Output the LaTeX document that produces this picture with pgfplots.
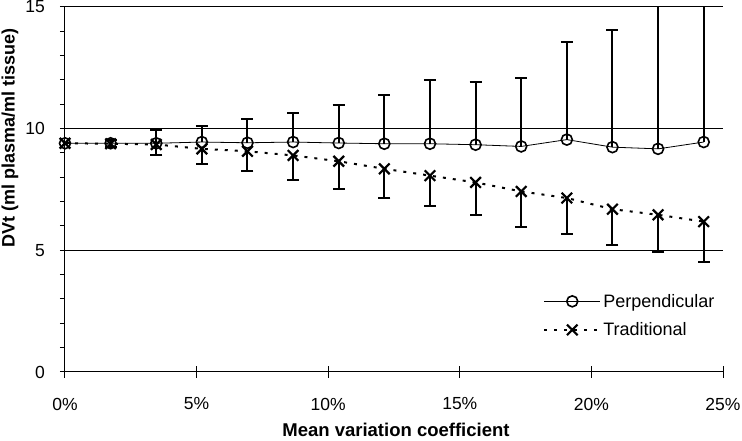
\documentclass[border=0pt]{standalone}
\usepackage{pgfplots}
\pgfplotsset{compat=1.18}
\usepackage{pgfplotstable}
\usepackage{fontspec}
\setmainfont{Liberation Sans}

\pgfplotstableread{
x y e
0      9.40 0.00
1.733  9.40 0.12
3.467  9.40 0.56
5.200  9.45 0.67
6.933  9.42 0.96
8.667  9.45 1.21
10.400 9.41 1.55
12.133 9.38 2.02
13.867 9.38 2.60
15.600 9.34 2.56
17.333 9.27 2.82
19.067 9.55 4.01
20.800 9.24 4.82
22.533 9.17 7.00
24.267 9.45 7.00
}\perpdata

\pgfplotstableread{
x y e
0      9.40 0.00
1.733  9.38 0.12
3.467  9.35 0.45
5.200  9.17 0.62
6.933  9.07 0.83
8.667  8.90 1.00
10.400 8.66 1.14
12.133 8.35 1.20
13.867 8.07 1.24
15.600 7.79 1.34
17.333 7.42 1.46
19.067 7.15 1.49
20.800 6.69 1.48
22.533 6.46 1.52
24.267 6.18 1.65
}\tradata

\begin{document}
\begin{tikzpicture}
\begin{axis}[
  scale only axis, width=658pt, height=365pt,
  xmin=0, xmax=25, ymin=0, ymax=15,
  axis x line*=bottom, axis y line*=left,
  axis line style={-, line width=1pt, black},
  tick align=outside, major tick length=5pt, minor tick length=5pt,
  tick style={black, line width=1pt},
  xtick=\empty,
  extra x ticks={0,5,10,15,20,25},
  extra x tick labels={0\%,5\%,10\%,15\%,20\%,25\%},
  extra x tick style={tick align=center, major tick length=12pt, grid=none},
  ytick={0,5,10,15},
  minor ytick={1,2,3,4,6,7,8,9,11,12,13,14},
  ymajorgrids, major grid style={black, line width=1pt},
  /pgf/number format/assume math mode=true,
  tick label style={font=\fontsize{17.5}{20}\selectfont},
  xticklabel style={anchor=center, yshift=-26pt},
  yticklabel style={anchor=east, inner sep=0pt, xshift=-15pt},
  xlabel={Mean variation coefficient},
  ylabel={DVt (ml plasma/ml tissue)},
  every axis x label/.style={at={(axis description cs:0.503,-0.159)}, anchor=center, font=\bfseries\fontsize{18.5}{20}\selectfont},
  every axis y label/.style={at={(axis description cs:-0.0836,0.641)}, anchor=center, rotate=90, font=\bfseries\fontsize{18}{20}\selectfont},
  legend style={draw=none, fill=none, at={(rel axis cs:0.722,0.225)}, anchor=north west, font=\fontsize{18}{20}\selectfont, row sep=10pt},
  legend cell align=left,
  legend image code/.code={\draw[mark repeat=2,mark phase=2] plot coordinates {(0pt,0pt) (28pt,0pt) (56pt,0pt)};},
]
\addplot[black, line width=0.8pt, mark=o, mark size=5.5pt, mark options={solid, line width=1.6pt},
  error bars/.cd, y dir=plus, y explicit,
  error bar style={line width=2pt, solid},
  error mark options={rotate=90, mark size=6pt, line width=2pt, solid}]
  table[x=x, y=y, y error=e] {\perpdata};
\addlegendentry{Perpendicular}
\addplot[black, line width=2pt, dash pattern=on 3pt off 7pt, mark=x, mark size=7.5pt, mark options={solid, line width=2.2pt},
  error bars/.cd, y dir=minus, y explicit,
  error bar style={line width=2pt, solid},
  error mark options={rotate=90, mark size=6pt, line width=2pt, solid}]
  table[x=x, y=y, y error=e] {\tradata};
\addlegendentry{Traditional}
\coordinate (O) at (rel axis cs:0,0);
\end{axis}
\pgfresetboundingbox
\path[use as bounding box] ([shift={(-65pt,-69pt)}]O) rectangle ([shift={(677pt,372pt)}]O);
\end{tikzpicture}
\end{document}
